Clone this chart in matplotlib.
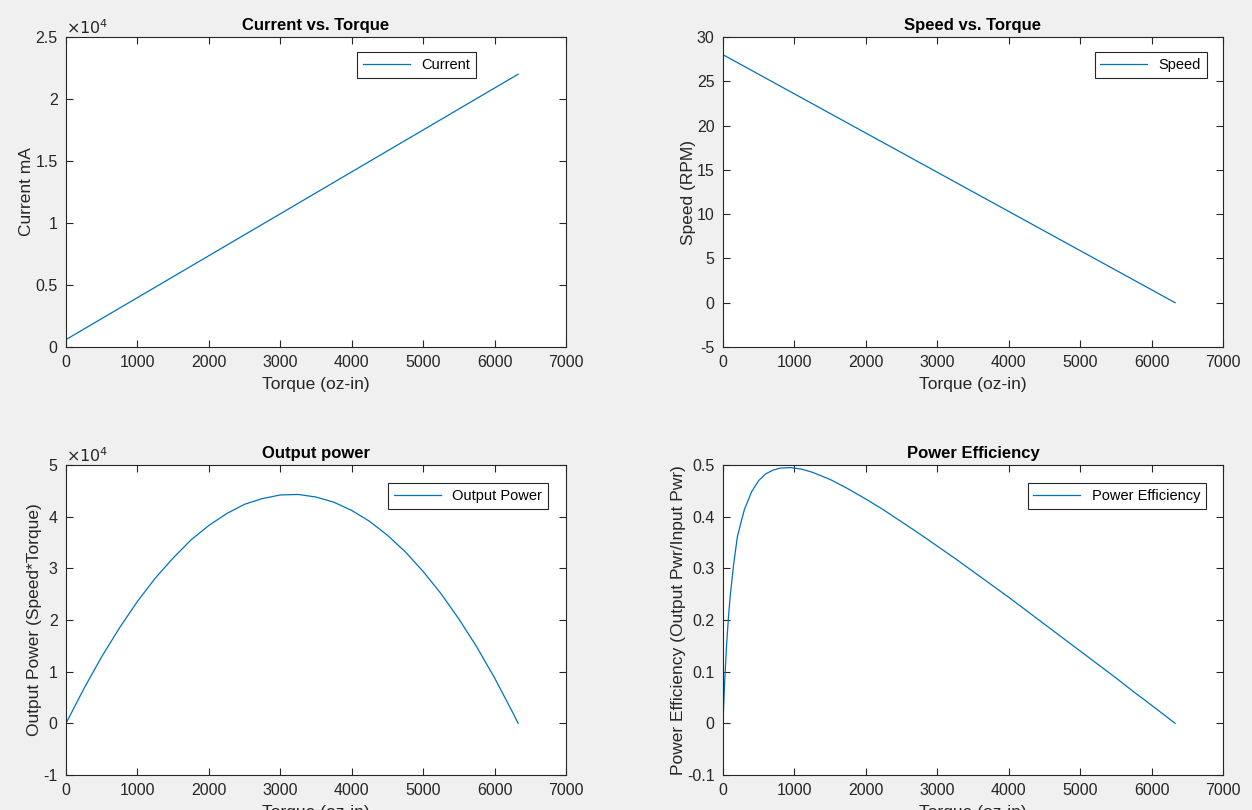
import matplotlib.pyplot as plt
import matplotlib.ticker as mticker

plt.rcParams['font.family'] = ['Liberation Sans', 'DejaVu Sans']
plt.rcParams['axes.unicode_minus'] = False

# values
torque_line = [0, 6330]
current_ma = [600, 22000]
speed_rpm = [28, 0]

torque_pw = [0, 250, 500, 750, 1000, 1250, 1500, 1750, 2000, 2250, 2500, 2750,
             3000, 3250, 3500, 3750, 4000, 4250, 4500, 4750, 5000, 5250, 5500,
             5750, 6000, 6250, 6330]
out_power = [0, 6700, 12900, 18500, 23600, 28100, 32000, 35500, 38300, 40600,
             42400, 43500, 44200, 44300, 43800, 42800, 41200, 39100, 36400,
             33200, 29400, 25100, 20200, 14800, 8800, 2200, 0]

torque_eff = [0, 10, 25, 50, 75, 100, 150, 200, 250, 300, 400, 500, 600, 700,
              800, 950, 1100, 1250, 1500, 1750, 2000, 2250, 2500, 2750, 3000,
              3250, 3500, 3750, 4000, 4250, 4500, 4750, 5000, 5250, 5500, 5750,
              6000, 6250, 6330]
efficiency = [0, 0.037, 0.085, 0.151, 0.203, 0.245, 0.309, 0.360, 0.388, 0.414,
              0.448, 0.470, 0.483, 0.490, 0.494, 0.495, 0.492, 0.486, 0.472,
              0.454, 0.434, 0.413, 0.390, 0.367, 0.343, 0.319, 0.294, 0.269,
              0.244, 0.218, 0.192, 0.166, 0.140, 0.114, 0.088, 0.061, 0.035,
              0.0085, 0]

line_col = '#0072BD'
txt_col = '#262626'
bg = '#F0F0F0'

fig = plt.figure(figsize=(12.52, 8.10), dpi=100, facecolor=bg)

W, H = 1252, 810
def box(l, t, r, b):
    return [l / W, 1 - b / H, (r - l) / W, (b - t) / H]

ax1 = fig.add_axes(box(66, 37, 566, 347))
ax2 = fig.add_axes(box(723, 37, 1223, 347))
ax3 = fig.add_axes(box(66, 465, 566, 775))
ax4 = fig.add_axes(box(723, 465, 1223, 775))

def style(ax, title, xlabel, ylabel):
    ax.set_facecolor('white')
    for s in ax.spines.values():
        s.set_color(txt_col)
        s.set_linewidth(0.8)
    ax.tick_params(direction='in', top=True, right=True, length=5, width=0.8,
                   colors=txt_col, labelsize=11.5, labelcolor=txt_col, pad=6)
    ax.set_xlim(0, 7000)
    ax.set_xticks(range(0, 7001, 1000))
    ax.set_title(title, fontsize=12, fontweight='bold', pad=5, color='black')
    ax.set_xlabel(xlabel, fontsize=12.5, color=txt_col, labelpad=5)
    ax.set_ylabel(ylabel, fontsize=12.5, color=txt_col, labelpad=1)

def legend(ax, label, x, y):
    lg = ax.legend([label], loc='upper right', bbox_to_anchor=(x, y),
                   borderaxespad=0, fancybox=False, edgecolor=txt_col,
                   framealpha=1, fontsize=10.5, handlelength=3.2)
    lg.get_frame().set_linewidth(0.8)

def exponent(ax):
    ax.text(0, 1.0, r'$\times10^{4}$', transform=ax.transAxes, fontsize=11.5,
            color=txt_col, va='bottom', ha='left')

sci = mticker.FuncFormatter(lambda v, p: '%g' % (v / 1e4))

# Current vs. Torque
style(ax1, 'Current vs. Torque', 'Torque (oz-in)', 'Current mA')
ax1.plot(torque_line, current_ma, color=line_col, lw=0.9)
ax1.set_ylim(0, 25000)
ax1.set_yticks(range(0, 25001, 5000))
ax1.yaxis.set_major_formatter(sci)
exponent(ax1)
legend(ax1, 'Current', 0.82, 0.952)

# Speed vs. Torque
style(ax2, 'Speed vs. Torque', 'Torque (oz-in)', 'Speed (RPM)')
ax2.plot(torque_line, speed_rpm, color=line_col, lw=0.9)
ax2.set_ylim(-5, 30)
ax2.set_yticks(range(-5, 31, 5))
legend(ax2, 'Speed', 0.968, 0.952)

# Output power
style(ax3, 'Output power', 'Torque (oz-in)', 'Output Power (Speed*Torque)')
ax3.plot(torque_pw, out_power, color=line_col, lw=0.9)
ax3.set_ylim(-10000, 50000)
ax3.set_yticks(range(-10000, 50001, 10000))
ax3.yaxis.set_major_formatter(sci)
exponent(ax3)
legend(ax3, 'Output Power', 0.964, 0.942)

# Power Efficiency
style(ax4, 'Power Efficiency', 'Torque (oz-in)',
      'Power Efficiency (Output Pwr/Input Pwr)')
ax4.plot(torque_eff, efficiency, color=line_col, lw=0.9)
ax4.set_ylim(-0.1, 0.5)
ax4.set_yticks([-0.1, 0, 0.1, 0.2, 0.3, 0.4, 0.5])
ax4.yaxis.set_major_formatter(mticker.FuncFormatter(lambda v, p: '%g' % round(v, 2)))
legend(ax4, 'Power Efficiency', 0.966, 0.942)

fig.savefig('out.png', dpi=100, facecolor=bg)
